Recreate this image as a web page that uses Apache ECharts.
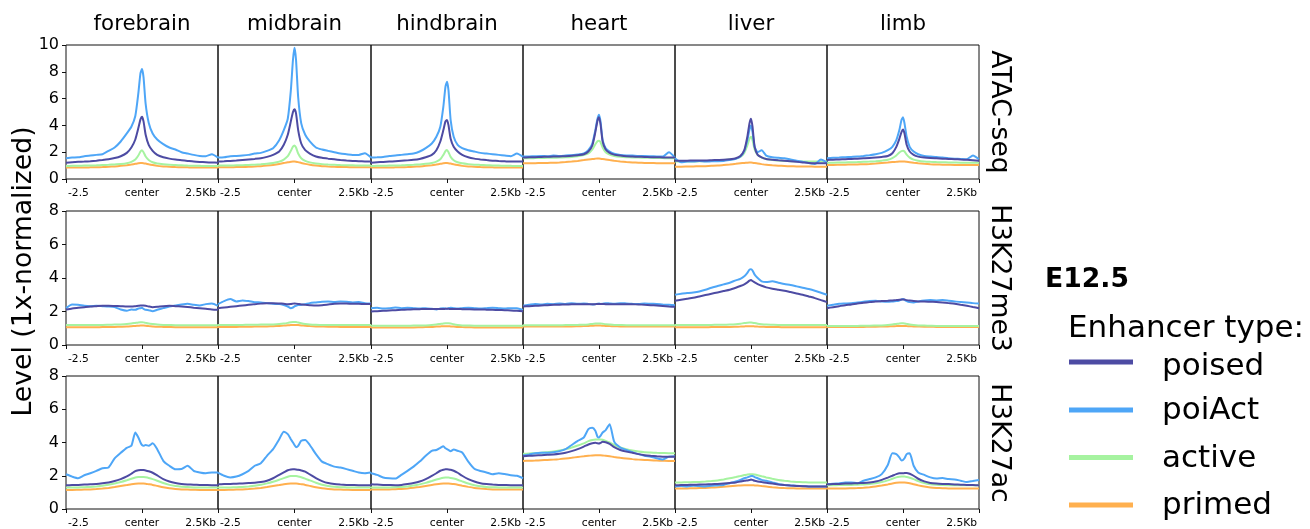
<!DOCTYPE html>
<html>
<head>
<meta charset="utf-8">
<title>E12.5 enhancer profiles</title>
<script src="https://cdn.jsdelivr.net/npm/echarts@6/dist/echarts.min.js"></script>
<style>
  html, body { margin: 0; padding: 0; background: #fff; }
  #chart { width: 1310px; height: 529px; }
</style>
</head>
<body>
<div id="chart"></div>
<script>
// Distance from enhancer center (kb) at which each profile is sampled
const positions = [-2.5,-2.3,-2.1,-1.9,-1.7,-1.5,-1.3,-1.1,-0.9,-0.7,-0.5,-0.35,-0.22,-0.12,-0.05,0,0.05,0.12,0.22,0.35,0.5,0.7,0.9,1.1,1.3,1.5,1.7,1.9,2.1,2.3,2.5];

const tissues = ['forebrain','midbrain','hindbrain','heart','liver','limb'];
const assays = ['ATAC-seq','H3K27me3','H3K27ac'];
const enhancerTypes = ['poised','poiAct','active','primed'];
const typeColors = ['#4d4ba3','#4ea6f7','#a6f3a0','#ffb04f'];
const xTickLabels = ['-2.5','center','2.5Kb'];
const yMax = [10, 8, 8];

// ---- ATAC-seq ----
const atacForebrainPoised = [1.22,1.25,1.28,1.3,1.33,1.37,1.42,1.48,1.56,1.7,1.95,2.35,2.95,3.8,4.45,4.65,4.3,3.3,2.55,2.1,1.8,1.62,1.52,1.45,1.4,1.35,1.3,1.27,1.25,1.23,1.22];
const atacForebrainPoiAct = [1.55,1.6,1.62,1.7,1.75,1.8,1.85,2.1,2.35,2.8,3.4,3.9,4.7,6.4,7.9,8.2,7.6,5.6,4.2,3.4,2.95,2.6,2.35,2.2,2.0,1.9,1.8,1.72,1.7,1.85,1.6];
const atacForebrainActive = [0.97,0.98,0.99,1.0,1.01,1.02,1.04,1.06,1.09,1.12,1.18,1.28,1.45,1.75,2.05,2.15,2.0,1.68,1.42,1.25,1.16,1.1,1.06,1.04,1.02,1.0,0.99,0.98,0.97,0.97,0.97];
const atacForebrainPrimed = [0.85,0.85,0.86,0.86,0.87,0.88,0.89,0.91,0.94,0.98,1.03,1.08,1.13,1.17,1.19,1.19,1.18,1.15,1.1,1.04,0.98,0.94,0.91,0.89,0.88,0.87,0.86,0.86,0.85,0.85,0.85];

const atacMidbrainPoised = [1.3,1.32,1.35,1.38,1.42,1.46,1.5,1.55,1.65,1.8,2.05,2.55,3.3,4.3,5.0,5.2,4.9,3.65,2.65,2.15,1.9,1.68,1.58,1.52,1.47,1.42,1.38,1.35,1.33,1.31,1.3];
const atacMidbrainPoiAct = [1.6,1.62,1.7,1.72,1.75,1.8,1.9,1.95,2.1,2.3,2.9,3.65,4.5,6.6,8.9,9.8,8.9,6.1,4.15,3.3,2.8,2.35,2.2,2.1,2.0,1.9,1.85,1.8,1.8,1.92,1.6];
const atacMidbrainActive = [1.0,1.0,1.01,1.02,1.03,1.05,1.07,1.1,1.14,1.2,1.3,1.45,1.7,2.1,2.42,2.5,2.35,1.9,1.55,1.35,1.24,1.16,1.11,1.08,1.06,1.04,1.03,1.02,1.01,1.0,1.0];
const atacMidbrainPrimed = [0.87,0.87,0.88,0.89,0.9,0.91,0.93,0.96,1.0,1.05,1.12,1.19,1.25,1.28,1.3,1.3,1.29,1.26,1.2,1.13,1.06,1.0,0.96,0.93,0.91,0.9,0.89,0.88,0.87,0.87,0.87];

const atacHindbrainPoised = [1.22,1.25,1.27,1.3,1.33,1.36,1.39,1.43,1.5,1.62,1.8,2.15,2.8,3.65,4.3,4.4,4.0,3.0,2.4,2.05,1.8,1.62,1.52,1.46,1.41,1.37,1.34,1.32,1.3,1.3,1.3];
const atacHindbrainPoiAct = [1.6,1.62,1.65,1.72,1.75,1.8,1.85,1.9,2.05,2.3,2.65,3.15,3.9,5.4,6.9,7.25,6.6,4.4,3.15,2.55,2.3,2.15,2.05,1.95,1.9,1.85,1.8,1.75,1.7,1.9,1.65];
const atacHindbrainActive = [0.97,0.98,0.99,1.0,1.01,1.02,1.04,1.06,1.09,1.13,1.2,1.3,1.47,1.8,2.08,2.16,2.0,1.65,1.4,1.25,1.17,1.11,1.07,1.05,1.03,1.01,1.0,0.99,0.98,0.97,0.97];
const atacHindbrainPrimed = [0.85,0.85,0.86,0.86,0.87,0.88,0.89,0.91,0.94,0.98,1.03,1.08,1.13,1.17,1.19,1.19,1.18,1.15,1.1,1.04,0.98,0.94,0.91,0.89,0.88,0.87,0.86,0.86,0.85,0.85,0.85];

const atacHeartPoised = [1.6,1.62,1.63,1.65,1.66,1.67,1.68,1.7,1.73,1.78,1.85,2.05,2.5,3.5,4.35,4.6,4.1,2.8,2.2,1.95,1.82,1.75,1.7,1.68,1.66,1.65,1.63,1.62,1.61,1.6,1.6];
const atacHeartPoiAct = [1.67,1.68,1.7,1.72,1.7,1.75,1.72,1.75,1.78,1.82,1.9,2.15,2.65,3.65,4.5,4.8,4.3,2.9,2.3,2.05,1.88,1.8,1.76,1.75,1.72,1.72,1.7,1.68,1.67,2.0,1.6];
const atacHeartActive = [1.55,1.55,1.56,1.57,1.58,1.59,1.6,1.62,1.65,1.7,1.78,1.9,2.2,2.6,2.82,2.85,2.75,2.35,2.0,1.82,1.72,1.66,1.63,1.61,1.6,1.59,1.58,1.57,1.56,1.55,1.55];
const atacHeartPrimed = [1.17,1.17,1.18,1.19,1.2,1.21,1.23,1.26,1.3,1.35,1.41,1.46,1.5,1.52,1.53,1.53,1.52,1.5,1.46,1.41,1.36,1.31,1.27,1.24,1.22,1.2,1.19,1.18,1.17,1.17,1.17];

const atacLiverPoised = [1.37,1.37,1.37,1.38,1.38,1.38,1.4,1.42,1.44,1.48,1.55,1.72,2.15,3.15,4.15,4.5,3.9,2.4,1.8,1.62,1.5,1.44,1.4,1.37,1.33,1.28,1.24,1.2,1.18,1.17,1.17];
const atacLiverPoiAct = [1.55,1.25,1.3,1.3,1.35,1.3,1.32,1.33,1.35,1.42,1.5,1.67,2.1,2.9,3.7,4.0,3.5,2.4,2.0,2.15,1.75,1.62,1.58,1.55,1.45,1.37,1.28,1.2,1.12,1.45,1.22];
const atacLiverActive = [1.3,1.3,1.3,1.31,1.32,1.33,1.35,1.37,1.4,1.45,1.52,1.65,1.95,2.5,3.0,3.15,2.9,2.2,1.8,1.6,1.5,1.42,1.38,1.35,1.33,1.32,1.31,1.3,1.3,1.3,1.3];
const atacLiverPrimed = [0.92,0.92,0.93,0.94,0.95,0.96,0.98,1.0,1.04,1.08,1.13,1.17,1.2,1.22,1.23,1.23,1.22,1.2,1.16,1.11,1.06,1.02,0.99,0.97,0.95,0.94,0.93,0.93,0.92,0.92,0.92];

const atacLimbPoised = [1.42,1.44,1.46,1.48,1.5,1.52,1.54,1.56,1.6,1.65,1.72,1.92,2.4,3.0,3.5,3.7,3.4,2.55,2.05,1.8,1.67,1.6,1.56,1.54,1.52,1.5,1.48,1.45,1.43,1.4,1.37];
const atacLimbPoiAct = [1.55,1.58,1.6,1.63,1.65,1.67,1.72,1.78,1.85,1.95,2.15,2.4,2.9,3.65,4.4,4.6,4.15,3.15,2.4,2.05,1.85,1.72,1.68,1.65,1.6,1.55,1.52,1.5,1.48,1.75,1.47];
const atacLimbActive = [1.22,1.22,1.23,1.24,1.25,1.26,1.28,1.3,1.33,1.37,1.43,1.55,1.75,1.98,2.08,2.1,2.05,1.82,1.6,1.45,1.37,1.31,1.28,1.26,1.25,1.24,1.23,1.22,1.22,1.22,1.22];
const atacLimbPrimed = [1.05,1.05,1.06,1.07,1.08,1.09,1.1,1.12,1.15,1.19,1.23,1.26,1.28,1.3,1.3,1.3,1.3,1.28,1.25,1.21,1.17,1.13,1.1,1.08,1.07,1.06,1.05,1.05,1.05,1.05,1.05];

// ---- H3K27me3 ----
const me3ForebrainPoised = [2.12,2.18,2.22,2.26,2.3,2.32,2.34,2.34,2.33,2.32,2.3,2.3,2.32,2.34,2.36,2.36,2.36,2.34,2.3,2.26,2.28,2.32,2.34,2.32,2.3,2.27,2.23,2.2,2.16,2.12,2.1];
const me3ForebrainPoiAct = [2.2,2.42,2.4,2.34,2.32,2.34,2.32,2.3,2.26,2.12,2.05,2.12,2.1,2.18,2.2,2.22,2.16,2.1,2.08,2.02,2.1,2.2,2.3,2.36,2.42,2.46,2.4,2.36,2.44,2.48,2.34];
const me3ForebrainActive = [1.2,1.2,1.2,1.2,1.2,1.2,1.2,1.21,1.22,1.23,1.25,1.28,1.32,1.35,1.36,1.36,1.35,1.32,1.28,1.25,1.22,1.2,1.19,1.18,1.18,1.18,1.18,1.18,1.18,1.18,1.18];
const me3ForebrainPrimed = [1.06,1.06,1.06,1.06,1.06,1.06,1.07,1.07,1.08,1.09,1.1,1.12,1.14,1.15,1.16,1.16,1.16,1.15,1.13,1.11,1.09,1.08,1.07,1.06,1.06,1.06,1.06,1.06,1.06,1.06,1.06];

const me3MidbrainPoised = [2.2,2.24,2.28,2.32,2.36,2.4,2.44,2.47,2.5,2.5,2.48,2.46,2.44,2.45,2.47,2.48,2.47,2.45,2.42,2.4,2.38,2.36,2.38,2.42,2.46,2.48,2.48,2.46,2.46,2.45,2.45];
const me3MidbrainPoiAct = [2.44,2.62,2.74,2.6,2.66,2.62,2.56,2.54,2.5,2.46,2.44,2.38,2.3,2.2,2.24,2.3,2.34,2.38,2.4,2.44,2.5,2.54,2.58,2.6,2.56,2.6,2.58,2.54,2.56,2.5,2.48];
const me3MidbrainActive = [1.2,1.2,1.2,1.2,1.2,1.21,1.21,1.22,1.22,1.23,1.25,1.28,1.32,1.36,1.38,1.38,1.37,1.34,1.3,1.26,1.23,1.21,1.2,1.2,1.2,1.2,1.2,1.2,1.2,1.2,1.2];
const me3MidbrainPrimed = [1.08,1.08,1.08,1.08,1.09,1.09,1.1,1.1,1.11,1.12,1.14,1.16,1.18,1.19,1.2,1.2,1.2,1.19,1.17,1.15,1.13,1.11,1.1,1.09,1.09,1.08,1.08,1.08,1.08,1.08,1.08];

const me3HindbrainPoised = [2.0,2.02,2.04,2.06,2.08,2.1,2.12,2.13,2.14,2.15,2.15,2.15,2.15,2.15,2.16,2.16,2.16,2.15,2.15,2.15,2.14,2.13,2.12,2.12,2.11,2.1,2.09,2.08,2.06,2.04,2.02];
const me3HindbrainPoiAct = [2.2,2.22,2.18,2.2,2.24,2.2,2.22,2.2,2.18,2.2,2.16,2.12,2.18,2.2,2.18,2.16,2.2,2.22,2.2,2.18,2.2,2.22,2.2,2.18,2.2,2.22,2.2,2.18,2.2,2.2,2.1];
const me3HindbrainActive = [1.15,1.15,1.15,1.15,1.15,1.15,1.15,1.16,1.16,1.17,1.19,1.22,1.26,1.29,1.3,1.3,1.3,1.28,1.24,1.2,1.17,1.16,1.15,1.15,1.15,1.15,1.15,1.15,1.15,1.15,1.15];
const me3HindbrainPrimed = [1.04,1.04,1.04,1.04,1.04,1.04,1.05,1.05,1.06,1.07,1.08,1.1,1.11,1.12,1.12,1.12,1.12,1.11,1.1,1.08,1.07,1.06,1.05,1.04,1.04,1.04,1.04,1.04,1.04,1.04,1.04];

const me3HeartPoised = [2.3,2.32,2.34,2.36,2.38,2.4,2.41,2.42,2.43,2.44,2.44,2.44,2.44,2.44,2.45,2.45,2.45,2.45,2.44,2.44,2.44,2.44,2.44,2.43,2.42,2.4,2.38,2.36,2.33,2.3,2.28];
const me3HeartPoiAct = [2.35,2.4,2.45,2.42,2.46,2.44,2.48,2.45,2.5,2.46,2.48,2.45,2.42,2.44,2.46,2.48,2.45,2.46,2.5,2.48,2.46,2.5,2.48,2.46,2.45,2.48,2.46,2.45,2.42,2.4,2.38];
const me3HeartActive = [1.18,1.18,1.18,1.18,1.18,1.18,1.18,1.19,1.19,1.2,1.21,1.23,1.26,1.28,1.29,1.29,1.29,1.27,1.24,1.22,1.2,1.19,1.18,1.18,1.18,1.18,1.18,1.18,1.18,1.18,1.18];
const me3HeartPrimed = [1.1,1.1,1.1,1.1,1.1,1.1,1.1,1.11,1.11,1.12,1.13,1.14,1.15,1.16,1.16,1.16,1.16,1.15,1.14,1.13,1.12,1.11,1.1,1.1,1.1,1.1,1.1,1.1,1.1,1.1,1.1];

const me3LiverPoised = [2.64,2.7,2.76,2.82,2.9,2.98,3.06,3.14,3.22,3.3,3.42,3.52,3.62,3.74,3.84,3.88,3.82,3.74,3.64,3.54,3.44,3.36,3.3,3.24,3.16,3.08,3.0,2.9,2.8,2.68,2.56];
const me3LiverPoiAct = [3.0,3.06,3.1,3.14,3.2,3.3,3.42,3.52,3.62,3.72,3.86,3.95,4.1,4.3,4.5,4.52,4.45,4.2,4.0,3.8,3.76,3.8,3.72,3.64,3.58,3.5,3.42,3.34,3.24,3.12,3.0];
const me3LiverActive = [1.2,1.2,1.2,1.2,1.2,1.2,1.2,1.21,1.21,1.22,1.24,1.27,1.31,1.33,1.34,1.34,1.33,1.31,1.27,1.24,1.22,1.21,1.2,1.2,1.2,1.2,1.2,1.2,1.2,1.2,1.2];
const me3LiverPrimed = [1.06,1.06,1.06,1.06,1.06,1.06,1.07,1.07,1.08,1.08,1.09,1.1,1.11,1.12,1.12,1.12,1.12,1.11,1.1,1.09,1.08,1.07,1.07,1.06,1.06,1.06,1.06,1.06,1.06,1.06,1.06];

const me3LimbPoised = [2.2,2.26,2.32,2.38,2.42,2.48,2.52,2.56,2.6,2.62,2.64,2.66,2.68,2.7,2.72,2.72,2.71,2.68,2.65,2.62,2.6,2.6,2.58,2.57,2.54,2.5,2.46,2.4,2.34,2.27,2.2];
const me3LimbPoiAct = [2.34,2.4,2.46,2.48,2.5,2.54,2.58,2.62,2.64,2.6,2.58,2.6,2.62,2.66,2.72,2.74,2.7,2.62,2.56,2.54,2.6,2.66,2.68,2.66,2.68,2.64,2.6,2.56,2.54,2.5,2.48];
const me3LimbActive = [1.14,1.14,1.14,1.14,1.14,1.14,1.15,1.15,1.16,1.17,1.19,1.22,1.26,1.29,1.3,1.3,1.29,1.26,1.22,1.19,1.17,1.16,1.15,1.14,1.14,1.14,1.14,1.14,1.14,1.14,1.14];
const me3LimbPrimed = [1.08,1.08,1.08,1.08,1.08,1.08,1.08,1.09,1.09,1.1,1.11,1.12,1.13,1.14,1.14,1.14,1.14,1.13,1.12,1.11,1.1,1.09,1.09,1.08,1.08,1.08,1.08,1.08,1.08,1.08,1.08];

// ---- H3K27ac ----
const acForebrainPoised = [1.43,1.44,1.45,1.47,1.49,1.51,1.55,1.6,1.68,1.8,1.96,2.12,2.28,2.33,2.35,2.35,2.34,2.32,2.27,2.18,2.02,1.8,1.65,1.56,1.51,1.48,1.46,1.45,1.44,1.43,1.43];
const acForebrainPoiAct = [2.09,1.95,1.85,2.03,2.15,2.29,2.45,2.5,3.05,3.38,3.68,3.8,4.6,4.3,4.0,3.85,3.8,3.85,3.8,3.95,3.6,2.9,2.6,2.39,2.4,2.6,2.3,2.2,2.15,2.2,2.19];
const acForebrainActive = [1.29,1.29,1.3,1.31,1.33,1.36,1.4,1.46,1.53,1.62,1.73,1.82,1.89,1.92,1.93,1.93,1.93,1.91,1.87,1.8,1.7,1.56,1.45,1.38,1.34,1.32,1.3,1.29,1.29,1.29,1.29];
const acForebrainPrimed = [1.15,1.15,1.16,1.17,1.18,1.2,1.23,1.27,1.32,1.38,1.44,1.49,1.52,1.53,1.53,1.53,1.53,1.52,1.49,1.45,1.39,1.31,1.25,1.21,1.18,1.17,1.16,1.15,1.15,1.15,1.15];

const acMidbrainPoised = [1.49,1.5,1.51,1.52,1.54,1.56,1.58,1.62,1.7,1.85,2.05,2.2,2.33,2.38,2.39,2.39,2.38,2.36,2.32,2.25,2.08,1.85,1.68,1.56,1.5,1.47,1.45,1.44,1.43,1.43,1.43];
const acMidbrainPoiAct = [2.19,2.0,1.9,1.95,2.09,2.29,2.6,2.75,3.2,3.6,4.2,4.65,4.5,4.2,4.0,3.85,3.72,3.8,4.1,4.15,3.85,3.3,2.85,2.69,2.55,2.49,2.4,2.3,2.19,2.15,2.19];
const acMidbrainActive = [1.29,1.29,1.3,1.31,1.33,1.36,1.4,1.46,1.54,1.64,1.76,1.86,1.94,1.98,1.99,1.99,1.98,1.96,1.91,1.83,1.72,1.58,1.46,1.39,1.34,1.31,1.3,1.29,1.29,1.29,1.29];
const acMidbrainPrimed = [1.15,1.15,1.16,1.17,1.18,1.2,1.23,1.27,1.32,1.38,1.44,1.49,1.52,1.53,1.53,1.53,1.53,1.52,1.49,1.45,1.39,1.31,1.25,1.21,1.18,1.17,1.16,1.15,1.15,1.15,1.15];

const acHindbrainPoised = [1.49,1.47,1.45,1.44,1.43,1.45,1.5,1.56,1.65,1.8,1.99,2.15,2.3,2.36,2.39,2.39,2.38,2.36,2.3,2.18,2.0,1.8,1.65,1.55,1.5,1.47,1.45,1.44,1.43,1.43,1.43];
const acHindbrainPoiAct = [2.15,2.05,1.9,1.85,1.83,2.05,2.29,2.55,2.85,3.2,3.5,3.55,3.68,3.78,3.65,3.6,3.55,3.48,3.58,3.5,3.4,2.85,2.42,2.29,2.2,2.09,2.15,2.1,2.03,2.0,1.85];
const acHindbrainActive = [1.29,1.29,1.29,1.3,1.31,1.33,1.36,1.41,1.48,1.57,1.68,1.77,1.84,1.88,1.89,1.89,1.89,1.87,1.83,1.76,1.66,1.53,1.43,1.37,1.33,1.31,1.3,1.29,1.29,1.29,1.29];
const acHindbrainPrimed = [1.17,1.17,1.17,1.18,1.19,1.21,1.24,1.28,1.33,1.39,1.45,1.49,1.52,1.53,1.53,1.53,1.53,1.52,1.5,1.46,1.4,1.33,1.27,1.23,1.2,1.18,1.17,1.17,1.17,1.17,1.17];

const acHeartPoised = [3.18,3.2,3.22,3.24,3.26,3.28,3.32,3.38,3.48,3.6,3.75,3.88,3.96,3.98,3.95,3.94,3.98,4.04,4.02,3.92,3.72,3.55,3.45,3.38,3.3,3.24,3.2,3.17,3.15,3.14,3.14];
const acHeartPoiAct = [3.22,3.28,3.35,3.38,3.38,3.42,3.48,3.6,3.85,4.1,4.3,4.8,4.88,4.7,4.35,4.3,4.4,4.6,4.75,5.1,4.05,3.7,3.55,3.42,3.3,3.2,3.14,3.05,2.98,3.15,3.18];
const acHeartActive = [3.32,3.34,3.36,3.38,3.42,3.46,3.52,3.6,3.7,3.82,3.95,4.08,4.15,4.18,4.18,4.18,4.18,4.16,4.1,4.0,3.85,3.7,3.6,3.52,3.46,3.42,3.4,3.38,3.37,3.36,3.36];
const acHeartPrimed = [2.89,2.9,2.91,2.93,2.95,2.97,3.0,3.04,3.08,3.13,3.17,3.2,3.22,3.23,3.23,3.23,3.23,3.22,3.2,3.17,3.13,3.08,3.04,3.0,2.97,2.95,2.93,2.91,2.9,2.89,2.89];

const acLiverPoised = [1.43,1.44,1.45,1.46,1.47,1.48,1.49,1.51,1.54,1.57,1.6,1.65,1.7,1.72,1.74,1.78,1.75,1.7,1.66,1.62,1.58,1.53,1.48,1.44,1.41,1.39,1.37,1.36,1.35,1.35,1.35];
const acLiverPoiAct = [1.35,1.38,1.36,1.4,1.38,1.36,1.4,1.42,1.45,1.55,1.65,1.75,1.85,1.9,1.95,1.98,1.98,1.92,1.85,1.75,1.7,1.6,1.5,1.45,1.42,1.4,1.38,1.36,1.35,1.36,1.35];
const acLiverActive = [1.59,1.6,1.61,1.62,1.63,1.65,1.68,1.72,1.78,1.85,1.92,1.98,2.04,2.07,2.09,2.09,2.09,2.07,2.03,1.97,1.9,1.82,1.75,1.7,1.66,1.63,1.61,1.6,1.59,1.59,1.59];
const acLiverPrimed = [1.23,1.23,1.24,1.25,1.26,1.27,1.29,1.31,1.34,1.37,1.4,1.42,1.43,1.43,1.43,1.43,1.43,1.42,1.41,1.38,1.35,1.31,1.28,1.26,1.25,1.24,1.23,1.23,1.23,1.23,1.23];

const acLimbPoised = [1.49,1.5,1.51,1.53,1.54,1.55,1.57,1.6,1.65,1.75,1.89,2.0,2.1,2.15,2.15,2.15,2.16,2.17,2.12,2.0,1.82,1.66,1.57,1.53,1.51,1.5,1.48,1.46,1.45,1.44,1.43];
const acLimbPoiAct = [1.49,1.52,1.55,1.59,1.6,1.55,1.7,1.8,1.9,2.1,2.65,3.35,3.3,3.1,2.92,2.95,3.05,3.3,3.35,2.6,2.2,2.05,1.9,1.83,1.86,1.8,1.78,1.7,1.62,1.69,1.75];
const acLimbActive = [1.43,1.43,1.44,1.44,1.45,1.46,1.48,1.51,1.55,1.62,1.72,1.82,1.9,1.94,1.95,1.95,1.95,1.93,1.88,1.8,1.68,1.56,1.49,1.46,1.44,1.43,1.43,1.43,1.43,1.43,1.43];
const acLimbPrimed = [1.23,1.23,1.24,1.24,1.25,1.26,1.28,1.31,1.35,1.41,1.48,1.54,1.58,1.59,1.59,1.59,1.59,1.58,1.55,1.49,1.42,1.35,1.3,1.27,1.25,1.24,1.23,1.23,1.23,1.23,1.23];

// Profiles per assay row, tissue column, in the order of enhancerTypes
const profiles = [
  [
    [atacForebrainPoised, atacForebrainPoiAct, atacForebrainActive, atacForebrainPrimed],
    [atacMidbrainPoised, atacMidbrainPoiAct, atacMidbrainActive, atacMidbrainPrimed],
    [atacHindbrainPoised, atacHindbrainPoiAct, atacHindbrainActive, atacHindbrainPrimed],
    [atacHeartPoised, atacHeartPoiAct, atacHeartActive, atacHeartPrimed],
    [atacLiverPoised, atacLiverPoiAct, atacLiverActive, atacLiverPrimed],
    [atacLimbPoised, atacLimbPoiAct, atacLimbActive, atacLimbPrimed]
  ],
  [
    [me3ForebrainPoised, me3ForebrainPoiAct, me3ForebrainActive, me3ForebrainPrimed],
    [me3MidbrainPoised, me3MidbrainPoiAct, me3MidbrainActive, me3MidbrainPrimed],
    [me3HindbrainPoised, me3HindbrainPoiAct, me3HindbrainActive, me3HindbrainPrimed],
    [me3HeartPoised, me3HeartPoiAct, me3HeartActive, me3HeartPrimed],
    [me3LiverPoised, me3LiverPoiAct, me3LiverActive, me3LiverPrimed],
    [me3LimbPoised, me3LimbPoiAct, me3LimbActive, me3LimbPrimed]
  ],
  [
    [acForebrainPoised, acForebrainPoiAct, acForebrainActive, acForebrainPrimed],
    [acMidbrainPoised, acMidbrainPoiAct, acMidbrainActive, acMidbrainPrimed],
    [acHindbrainPoised, acHindbrainPoiAct, acHindbrainActive, acHindbrainPrimed],
    [acHeartPoised, acHeartPoiAct, acHeartActive, acHeartPrimed],
    [acLiverPoised, acLiverPoiAct, acLiverActive, acLiverPrimed],
    [acLimbPoised, acLimbPoiAct, acLimbActive, acLimbPrimed]
  ]
];

// ---- layout ----
const FONT = 'DejaVu Sans';
// panel edges snapped to whole pixels so shared borders stay crisp
const COL_EDGES = [66, 218, 371, 523, 675, 827, 979];
const ROW_TOP = [45, 211, 376], ROW_H = 134;

const grids = [], xAxes = [], yAxes = [], series = [];
// drawing order: primed at the bottom, poised on top
const drawOrder = [3, 2, 1, 0];

assays.forEach((assay, r) => {
  tissues.forEach((tissue, c) => {
    const idx = grids.length;
    // the grid border draws the panel frame; axes only add ticks and labels
    grids.push({
      left: COL_EDGES[c], top: ROW_TOP[r], width: COL_EDGES[c + 1] - COL_EDGES[c], height: ROW_H,
      show: true, borderColor: '#111', borderWidth: 1, backgroundColor: 'transparent'
    });
    xAxes.push({
      type: 'value', gridIndex: idx, min: -2.5, max: 2.5, interval: 2.5,
      axisLine: { show: false, onZero: false },
      axisTick: { show: true, length: 4, lineStyle: { color: '#111' } },
      splitLine: { show: false },
      axisLabel: {
        fontFamily: FONT, fontSize: 10.67, color: '#000', margin: 9,
        padding: [0, 2, 0, 2],
        alignMinLabel: 'left', alignMaxLabel: 'right',
        formatter: v => v < 0 ? xTickLabels[0] : (v === 0 ? xTickLabels[1] : xTickLabels[2])
      }
    });
    yAxes.push({
      type: 'value', gridIndex: idx, min: 0, max: yMax[r], interval: 2,
      axisLine: { show: false, onZero: false },
      axisTick: { show: c === 0, length: 4, lineStyle: { color: '#111' } },
      splitLine: { show: false },
      axisLabel: { show: c === 0, fontFamily: FONT, fontSize: 16, color: '#000', margin: 7 }
    });
    drawOrder.forEach(k => {
      const values = profiles[r][c][k];
      series.push({
        name: enhancerTypes[k], type: 'line', xAxisIndex: idx, yAxisIndex: idx,
        data: positions.map((x, i) => [x, values[i]]),
        showSymbol: false, symbol: 'none', smooth: 0.2,
        lineStyle: { color: typeColors[k], width: 2 },
        itemStyle: { color: typeColors[k] },
        z: 3 + (3 - k)
      });
    });
  });
});

// ---- text and legend ----
const graphics = [];
tissues.forEach((t, c) => {
  graphics.push({ type: 'text', x: (COL_EDGES[c] + COL_EDGES[c + 1]) / 2, y: 24.3,
    style: { text: t, font: `21.33px "${FONT}"`, fill: '#000', textAlign: 'center', textVerticalAlign: 'middle' } });
});
assays.forEach((a, r) => {
  graphics.push({ type: 'text', x: 999, y: ROW_TOP[r] + ROW_H / 2, rotation: -Math.PI / 2,
    style: { text: a, font: `26.67px "${FONT}"`, fill: '#000', textAlign: 'center', textVerticalAlign: 'middle' } });
});
graphics.push({ type: 'text', x: 24, y: 271.5, rotation: Math.PI / 2,
  style: { text: 'Level (1x-normalized)', font: `26.67px "${FONT}"`, fill: '#000', textAlign: 'center', textVerticalAlign: 'middle' } });
graphics.push({ type: 'text', x: 1045, y: 280.5,
  style: { text: 'E12.5', font: `bold 26.67px "${FONT}"`, fill: '#000', textAlign: 'left', textVerticalAlign: 'middle' } });
graphics.push({ type: 'text', x: 1068, y: 328.5,
  style: { text: 'Enhancer type:', font: `31px "${FONT}"`, fill: '#000', textAlign: 'left', textVerticalAlign: 'middle' } });
const legendY = [362, 410, 457.5, 505];
const legendTextY = [367, 411, 458.5, 506];
enhancerTypes.forEach((name, k) => {
  graphics.push({ type: 'line', shape: { x1: 1069, y1: legendY[k], x2: 1133, y2: legendY[k] },
    style: { stroke: typeColors[k], lineWidth: 5 } });
  graphics.push({ type: 'text', x: 1162, y: legendTextY[k],
    style: { text: name, font: `31px "${FONT}"`, fill: '#000', textAlign: 'left', textVerticalAlign: 'middle' } });
});

const chart = echarts.init(document.getElementById('chart'), null, { renderer: 'canvas', width: 1310, height: 529 });
chart.setOption({
  animation: false,
  backgroundColor: '#fff',
  textStyle: { fontFamily: FONT },
  grid: grids,
  xAxis: xAxes,
  yAxis: yAxes,
  series: series,
  graphic: graphics
});
</script>
</body>
</html>
